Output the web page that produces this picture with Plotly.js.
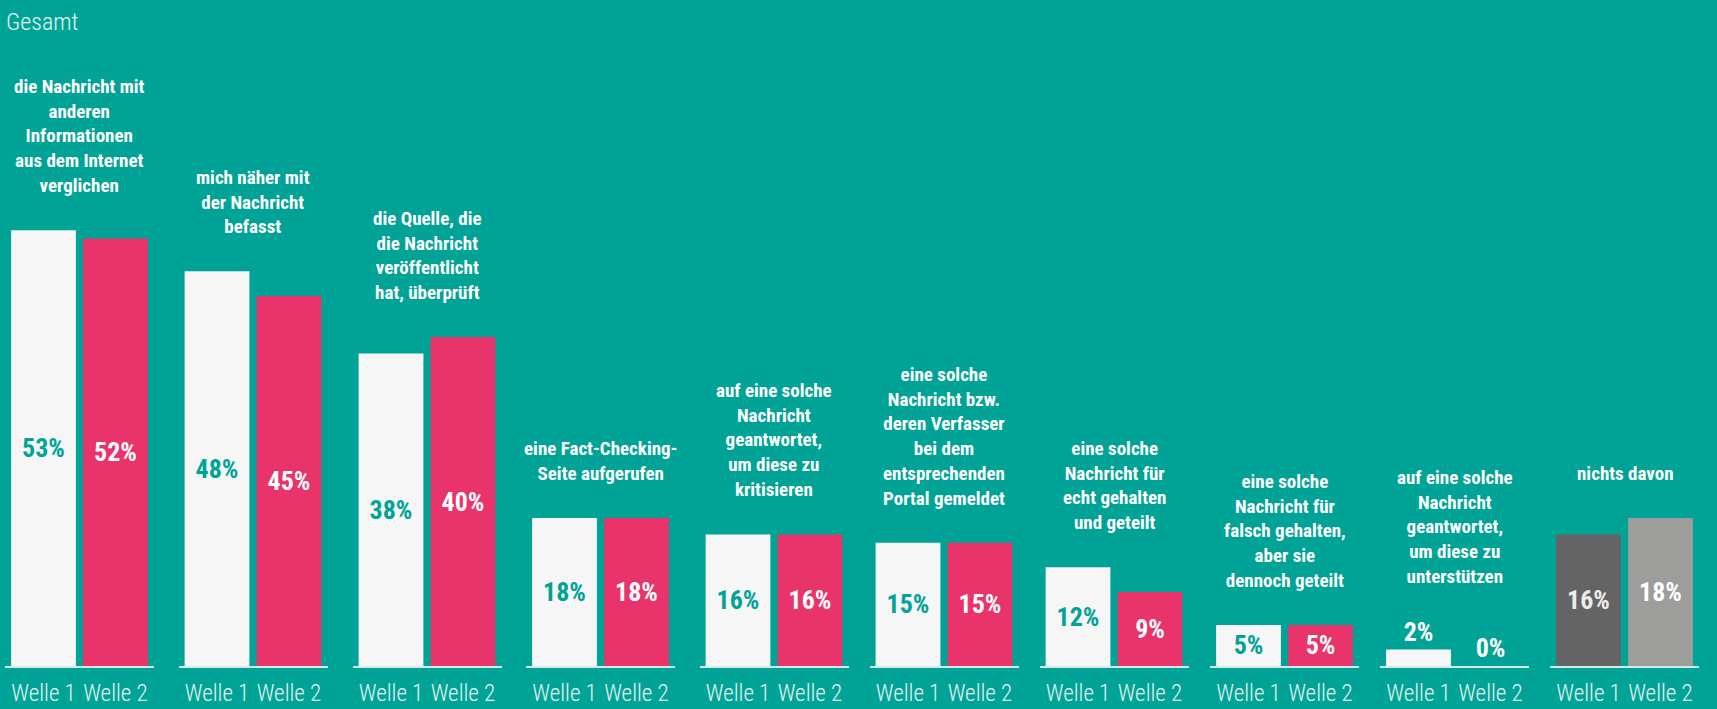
<!DOCTYPE html>
<html>
<head>
<meta charset="utf-8">
<script src="https://cdn.plot.ly/plotly-3.0.1.min.js"></script>
<style>
  html, body { margin: 0; padding: 0; background: #00A396; }
  #chart { width: 1717px; height: 709px; }
</style>
</head>
<body>
<div id="chart"></div>
<script>
// ---- Data ----
const categories = [
  'die Nachricht mit<br>anderen<br>Informationen<br>aus dem Internet<br>verglichen',
  'mich näher mit<br>der Nachricht<br>befasst',
  'die Quelle, die<br>die Nachricht<br>veröffentlicht<br>hat, überprüft',
  'eine Fact-Checking-<br>Seite aufgerufen',
  'auf eine solche<br>Nachricht<br>geantwortet,<br>um diese zu<br>kritisieren',
  'eine solche<br>Nachricht bzw.<br>deren Verfasser<br>bei dem<br>entsprechenden<br>Portal gemeldet',
  'eine solche<br>Nachricht für<br>echt gehalten<br>und geteilt',
  'eine solche<br>Nachricht für<br>falsch gehalten,<br>aber sie<br>dennoch geteilt',
  'auf eine solche<br>Nachricht<br>geantwortet,<br>um diese zu<br>unterstützen',
  'nichts davon'
];
const waveLabels = ['Welle 1', 'Welle 2'];
const welle1 = [53, 48, 38, 18, 16, 15, 12, 5, 2, 16];
const welle2 = [52, 45, 40, 18, 16, 15, 9, 5, 0, 18];
const chartTitle = 'Gesamt';

// ---- Styles ----
const BG = '#00A396';
const WHITE_BAR = '#F6F6F6';
const PINK_BAR = '#E8346A';
const DARK_GREY = '#646464';
const LIGHT_GREY = '#9D9D9B';
const LIGHT_TEXT = '#E4F3F1';
const COND = '"Roboto Condensed", "Open Sans Condensed", "DejaVu Sans Condensed", sans-serif';

const W = 1717, H = 709;
const groupCenters = [79.5, 253, 427, 600.5, 774, 944, 1114, 1284.5, 1454.5, 1624.5];
const halfGroup = 74.5;
const baselineBottom = 43;
const yMax = 81;
const insideMin = 4; // bars below this value carry their label above the bar

const traces = [];
const annotations = [];
const layout = {
  width: W, height: H,
  margin: {l: 0, r: 0, t: 0, b: baselineBottom},
  paper_bgcolor: BG, plot_bgcolor: 'rgba(0,0,0,0)',
  showlegend: false,
  bargap: 0.1,
  title: {
    text: chartTitle,
    x: 6 / W, xanchor: 'left', xref: 'paper',
    y: 1 - 22 / H, yanchor: 'middle', yref: 'container',
    font: {family: COND, size: 24, weight: 300, color: LIGHT_TEXT}
  },
  annotations: annotations
};

categories.forEach((cat, i) => {
  const n = i + 1;
  const xa = n === 1 ? 'x' : 'x' + n;
  const ya = n === 1 ? 'y' : 'y' + n;
  const isLast = i === categories.length - 1;
  const colors = isLast ? [DARK_GREY, LIGHT_GREY] : [WHITE_BAR, PINK_BAR];
  const insideColors = isLast ? ['#ECECEC', '#FFFFFF'] : [BG, '#FFFFFF'];
  const vals = [welle1[i], welle2[i]];
  traces.push({
    type: 'bar',
    x: waveLabels,
    y: vals,
    xaxis: xa, yaxis: ya,
    marker: {color: colors, line: {width: 0}},
    text: vals.map(v => v + '%'),
    textposition: vals.map(v => v < insideMin ? 'outside' : 'inside'),
    insidetextanchor: 'middle',
    textangle: 0,
    insidetextfont: {family: COND, size: 26, weight: 'bold', color: insideColors},
    outsidetextfont: {family: COND, size: 26, weight: 'bold', color: '#FFFFFF'},
    constraintext: 'none',
    cliponaxis: false,
    hoverinfo: 'skip'
  });
  const c = groupCenters[i];
  layout['xaxis' + (n === 1 ? '' : n)] = {
    domain: [(c - halfGroup) / W, (c + halfGroup) / W],
    anchor: ya,
    type: 'category',
    range: [-0.535, 1.535],
    showline: true, linecolor: '#D5E9E6', linewidth: 2,
    showgrid: false, zeroline: false,
    ticks: '', tickangle: 0, ticklabelstandoff: 5,
    tickfont: {family: COND, size: 23, weight: 300, color: LIGHT_TEXT},
    fixedrange: true
  };
  layout['yaxis' + (n === 1 ? '' : n)] = {
    domain: [0, 1], anchor: xa,
    range: [0, yMax], visible: false, fixedrange: true
  };
  const top = Math.max(vals[0], vals[1]);
  const labelOutside = top < insideMin;
  annotations.push({
    xref: xa + ' domain', x: 0.5,
    yref: ya, y: top,
    xanchor: 'center', yanchor: 'bottom',
    yshift: labelOutside ? 60 : 31,
    showarrow: false, align: 'center',
    text: cat,
    font: {family: COND, size: 19, weight: 'bold', color: '#FFFFFF'}
  });
});

Plotly.newPlot('chart', traces, layout, {displayModeBar: false, staticPlot: true});
</script>
</body>
</html>
